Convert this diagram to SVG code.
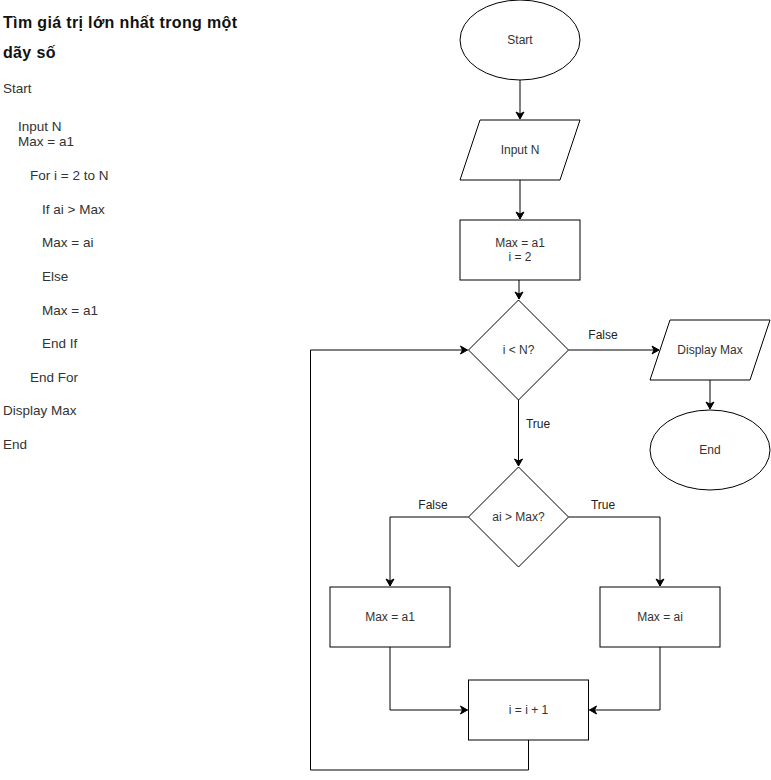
<svg xmlns="http://www.w3.org/2000/svg" width="771" height="780" viewBox="0 0 771 780">
<style>
.s{fill:#fff;stroke:#000;stroke-width:1}
.c{fill:none;stroke:#000;stroke-width:1}
.t{font-family:"Liberation Sans",Arial,sans-serif;font-size:12px;fill:#333;text-anchor:middle}
.l{font-family:"Liberation Sans",Arial,sans-serif;font-size:12px;fill:#222;text-anchor:middle}
.p{font-family:"Liberation Sans",Arial,sans-serif;font-size:13.5px;fill:#333}
.h{font-family:"Liberation Sans",Arial,sans-serif;font-size:16px;font-weight:bold;fill:#111;letter-spacing:0.35px}
</style>
<defs>
<marker id="a" markerWidth="10" markerHeight="10" refX="8" refY="5" orient="auto" markerUnits="userSpaceOnUse">
<path d="M1,1 L8,5 L1,9 L3,5 Z" fill="#000" stroke="#000" stroke-width="1"/>
</marker>
</defs>
<rect width="771" height="780" fill="#fff"/>
<g id="pseudocode">
<text class="h" x="3" y="28">Tìm giá trị lớn nhất trong một</text>
<text class="h" x="3" y="58">dãy số</text>
<text class="p" x="3" y="93">Start</text>
<text class="p" x="18" y="131">Input N</text>
<text class="p" x="18" y="146">Max = a1</text>
<text class="p" x="30" y="180">For i = 2 to N</text>
<text class="p" x="42" y="214">If ai &gt; Max</text>
<text class="p" x="42" y="247">Max = ai</text>
<text class="p" x="42" y="281">Else</text>
<text class="p" x="42" y="315">Max = a1</text>
<text class="p" x="42" y="348">End If</text>
<text class="p" x="30" y="382">End For</text>
<text class="p" x="3" y="415">Display Max</text>
<text class="p" x="3" y="449">End</text>
</g>
<g id="connectors">
<path class="c" d="M520,80 L520,119" marker-end="url(#a)"/>
<path class="c" d="M520,180 L520,219" marker-end="url(#a)"/>
<path class="c" d="M519,280 L519,299" marker-end="url(#a)"/>
<path class="c" d="M568.5,350 L659,350" marker-end="url(#a)"/>
<text class="l" x="603" y="339">False</text>
<path class="c" d="M710,380 L710,409" marker-end="url(#a)"/>
<path class="c" d="M518.5,400 L518.5,466" marker-end="url(#a)"/>
<text class="l" x="538" y="428">True</text>
<path class="c" d="M468.5,517 L390,517 L390,586" marker-end="url(#a)"/>
<text class="l" x="433" y="509">False</text>
<path class="c" d="M568.5,517 L660,517 L660,586" marker-end="url(#a)"/>
<text class="l" x="603" y="509">True</text>
<path class="c" d="M390,647 L390,710 L467.5,710" marker-end="url(#a)"/>
<path class="c" d="M660,647 L660,710 L589.5,710" marker-end="url(#a)"/>
<path class="c" d="M528.5,740 L528.5,770 L310.5,770 L310.5,350 L467.5,350" marker-end="url(#a)"/>
</g>
<g id="start">
<ellipse class="s" cx="520" cy="40" rx="60" ry="40"/>
<text class="t" x="520" y="44">Start</text>
</g>
<g id="input">
<path class="s" d="M480,120 L580,120 L560,180 L460,180 Z"/>
<text class="t" x="520" y="154">Input N</text>
</g>
<g id="init">
<rect class="s" x="460" y="220" width="120" height="60"/>
<text class="t" x="520" y="247">Max = a1</text>
<text class="t" x="520" y="261">i = 2</text>
</g>
<g id="cond1">
<path class="s" d="M518.5,300 L568.5,350 L518.5,400 L468.5,350 Z"/>
<text class="t" x="518.5" y="354">i &lt; N?</text>
</g>
<g id="display">
<path class="s" d="M670,320 L770,320 L750,380 L650,380 Z"/>
<text class="t" x="710" y="354">Display Max</text>
</g>
<g id="end">
<ellipse class="s" cx="710" cy="450" rx="60" ry="40"/>
<text class="t" x="710" y="454">End</text>
</g>
<g id="cond2">
<path class="s" d="M518.5,467 L568.5,517 L518.5,567 L468.5,517 Z"/>
<text class="t" x="518.5" y="521">ai &gt; Max?</text>
</g>
<g id="maxa1">
<rect class="s" x="330" y="587" width="120" height="60"/>
<text class="t" x="390" y="621">Max = a1</text>
</g>
<g id="maxai">
<rect class="s" x="600" y="587" width="120" height="60"/>
<text class="t" x="660" y="621">Max = ai</text>
</g>
<g id="incr">
<rect class="s" x="468.5" y="680" width="120" height="60"/>
<text class="t" x="528.5" y="714">i = i + 1</text>
</g>
</svg>
